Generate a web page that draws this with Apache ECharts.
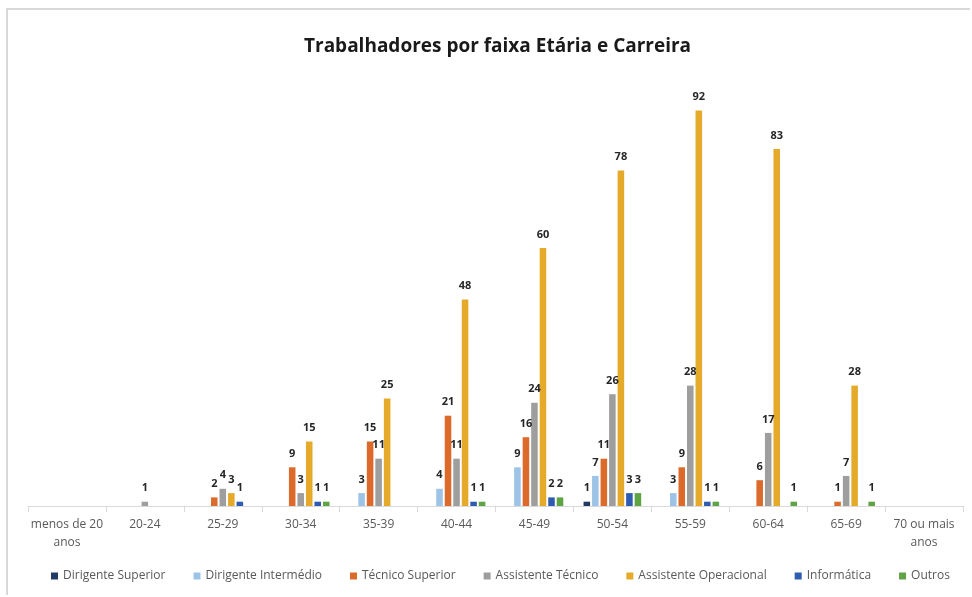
<!DOCTYPE html>
<html>
<head>
<meta charset="utf-8">
<script src="https://cdn.jsdelivr.net/npm/echarts@6/dist/echarts.min.js"></script>
<style>
  html, body { margin: 0; padding: 0; background: #fff; }
  #frame { position: absolute; left: 6px; top: 8px; width: 962px; height: 585px; border: 2px solid #d9d9d9; border-right: none; border-bottom: none; }
  #chart { position: absolute; left: 0; top: 0; width: 972px; height: 597px; }
</style>
</head>
<body>
<div id="frame"></div>
<div id="chart"></div>
<script>
// faixas etárias
const categories = ['menos de 20\nanos', '20-24', '25-29', '30-34', '35-39', '40-44', '45-49', '50-54', '55-59', '60-64', '65-69', '70 ou mais\nanos'];

// valores por carreira (null = sem trabalhadores)
const dirigenteSuperior     = [null, null, null, null, null, null, null, 1, null, null, null, null];
const dirigenteIntermedio   = [null, null, null, null, 3, 4, 9, 7, 3, null, null, null];
const tecnicoSuperior       = [null, null, 2, 9, 15, 21, 16, 11, 9, 6, 1, null];
const assistenteTecnico     = [null, 1, 4, 3, 11, 11, 24, 26, 28, 17, 7, null];
const assistenteOperacional = [null, null, 3, 15, 25, 48, 60, 78, 92, 83, 28, null];
const informatica           = [null, null, 1, 1, null, 1, 2, 3, 1, null, null, null];
const outros                = [null, null, null, 1, null, 1, 2, 3, 1, 1, 1, null];

const seriesList = [
  { name: 'Dirigente Superior', data: dirigenteSuperior, color: '#203A64' },
  { name: 'Dirigente Intermédio', data: dirigenteIntermedio, color: '#9DC3E6' },
  { name: 'Técnico Superior', data: tecnicoSuperior, color: '#DC6A2A' },
  { name: 'Assistente Técnico', data: assistenteTecnico, color: '#9E9E9E' },
  { name: 'Assistente Operacional', data: assistenteOperacional, color: '#E5AA2A' },
  { name: 'Informática', data: informatica, color: '#2E5CB0' },
  { name: 'Outros', data: outros, color: '#5EA344' }
];

const chart = echarts.init(document.getElementById('chart'), null, { renderer: 'canvas' });

chart.setOption({
  animation: false,
  title: {
    text: 'Trabalhadores por faixa Etária e Carreira',
    left: 299,
    top: 32,
    textStyle: { fontFamily: 'Open Sans', fontWeight: 'bold', fontSize: 19, color: '#1a1a1a' }
  },
  legend: {
    bottom: 10,
    left: 46,
    itemWidth: 7,
    itemHeight: 7,
    itemGap: 28,
    icon: 'rect',
    textStyle: { fontFamily: 'Open Sans', fontSize: 12, color: '#595959' }
  },
  grid: { left: 28, right: 9, top: 76, bottom: 91 },
  xAxis: {
    type: 'category',
    data: categories,
    axisLine: { lineStyle: { color: '#d9d9d9' } },
    axisTick: { show: true, length: 6, lineStyle: { color: '#d9d9d9' } },
    axisLabel: { fontFamily: 'Open Sans', fontSize: 12, color: '#595959', interval: 0, margin: 10, lineHeight: 18 }
  },
  yAxis: {
    type: 'value',
    min: 0,
    max: 100,
    show: false,
    splitLine: { show: false }
  },
  series: seriesList.map(s => ({
    type: 'bar',
    name: s.name,
    data: s.data,
    barGap: '30%',
    barCategoryGap: '26%',
    itemStyle: { color: s.color },
    label: {
      show: true,
      position: 'top',
      distance: 8,
      fontFamily: 'Open Sans',
      fontWeight: 'bold',
      fontSize: 11,
      color: '#262626'
    }
  }))
});
</script>
</body>
</html>
